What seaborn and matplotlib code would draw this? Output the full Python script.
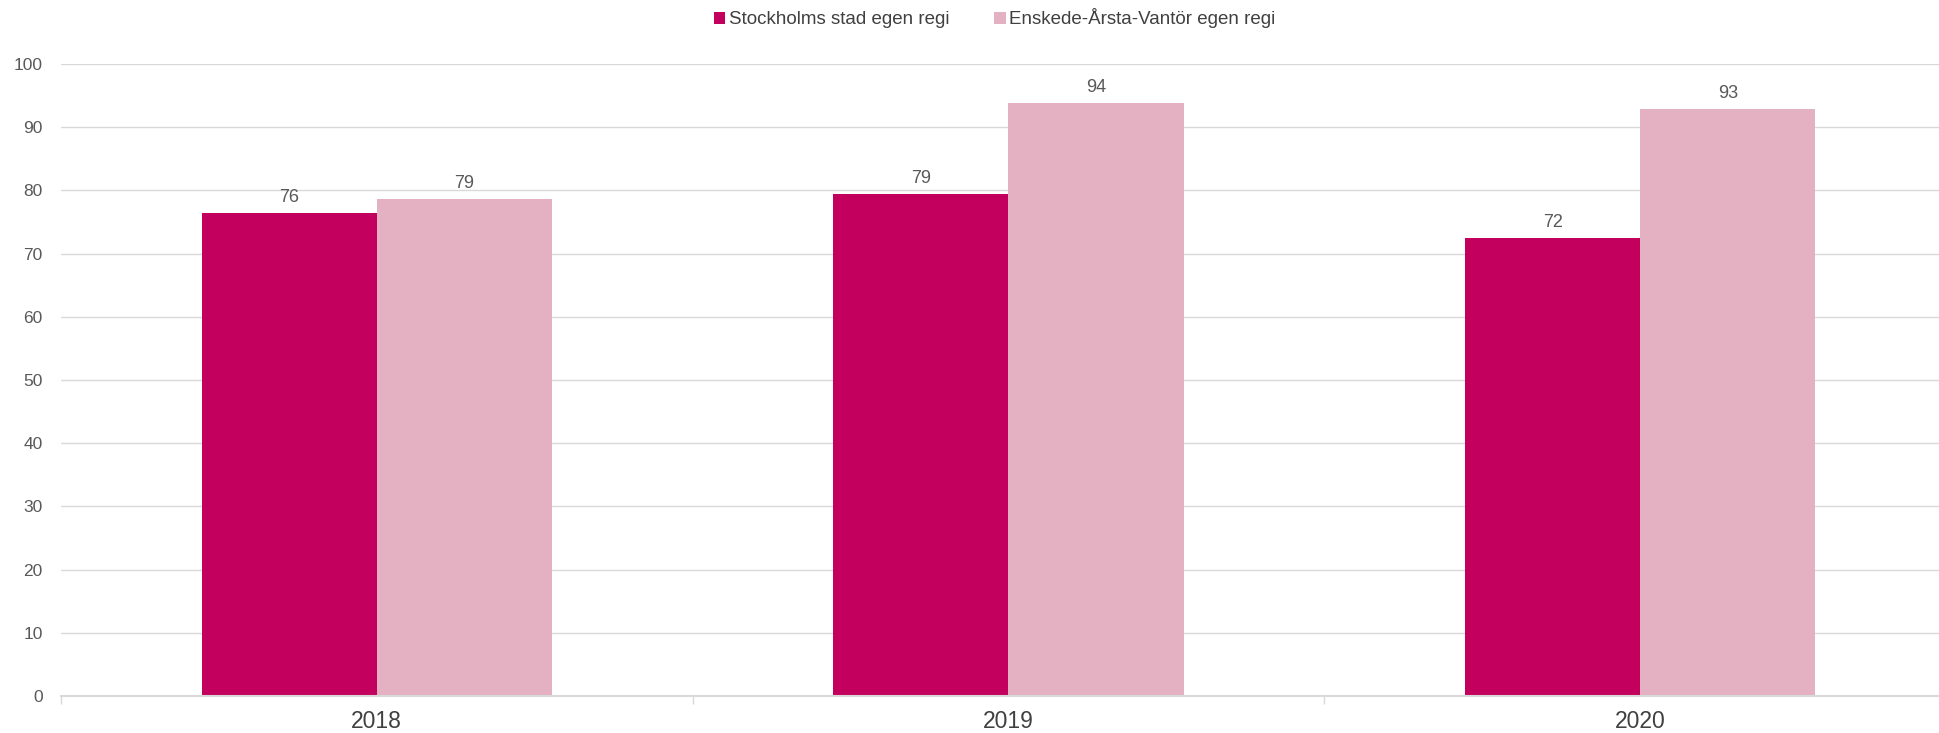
import matplotlib
matplotlib.use("Agg")
import matplotlib.pyplot as plt
from matplotlib.patches import Patch
import seaborn as sns
import pandas as pd
import numpy as np

years = ["2018", "2019", "2020"]
series_names = ["Stockholms stad egen regi", "Enskede-Årsta-Vantör egen regi"]
stockholm = [76.4, 79.4, 72.4]
enskede = [78.7, 93.9, 92.9]
colors = ["#C4005F", "#E3B1C1"]

df = pd.DataFrame({
    "year": years * 2,
    "value": stockholm + enskede,
    "series": [series_names[0]] * 3 + [series_names[1]] * 3,
})

sns.set_theme(style="white")
plt.rcParams["font.family"] = ["Liberation Sans", "DejaVu Sans"]
text_color = "#595959"

fig = plt.figure(figsize=(19.39, 7.33), dpi=100)
ax = fig.add_axes([0.03125, 0.0505, 0.9777, 0.8622])

sns.barplot(data=df, x="year", y="value", hue="series", order=years,
            hue_order=series_names, palette=colors, width=0.554, gap=0,
            saturation=1, ax=ax, legend=False, linewidth=0)

for cont in ax.containers:
    ax.bar_label(cont, labels=[f"{v:.0f}" for v in cont.datavalues],
                 padding=5, fontsize=13, color=text_color)

ax.set_xlim(-0.5, 2.5)
ax.set_ylim(0, 100)
ax.set_yticks(np.arange(0, 101, 10))
ax.yaxis.grid(True, color="#D9D9D9", linewidth=1)
ax.set_axisbelow(True)
for s in ["top", "right", "left"]:
    ax.spines[s].set_visible(False)
ax.spines["bottom"].set_color("#D9D9D9")
ax.spines["bottom"].set_linewidth(1.5)
ax.set_xlabel("")
ax.set_ylabel("")
ax.tick_params(axis="y", length=0, labelsize=12.5, labelcolor=text_color, pad=13)
ax.tick_params(axis="x", length=0, labelsize=16.5, labelcolor="#404040", pad=10)
ax.set_xticks([-0.5, 0.5, 1.5, 2.5], minor=True)
ax.tick_params(axis="x", which="minor", bottom=True, length=6, color="#D9D9D9", width=1)

handles = [Patch(facecolor=c, edgecolor="none") for c in colors]
fig.legend(handles, series_names, loc="center", bbox_to_anchor=(0.513, 0.975),
           ncol=2, frameon=False, fontsize=13.5, handlelength=0.6, handleheight=0.6,
           handletextpad=0.2, columnspacing=2.4, labelcolor="#404040")

fig.savefig("out.png", dpi=100)
